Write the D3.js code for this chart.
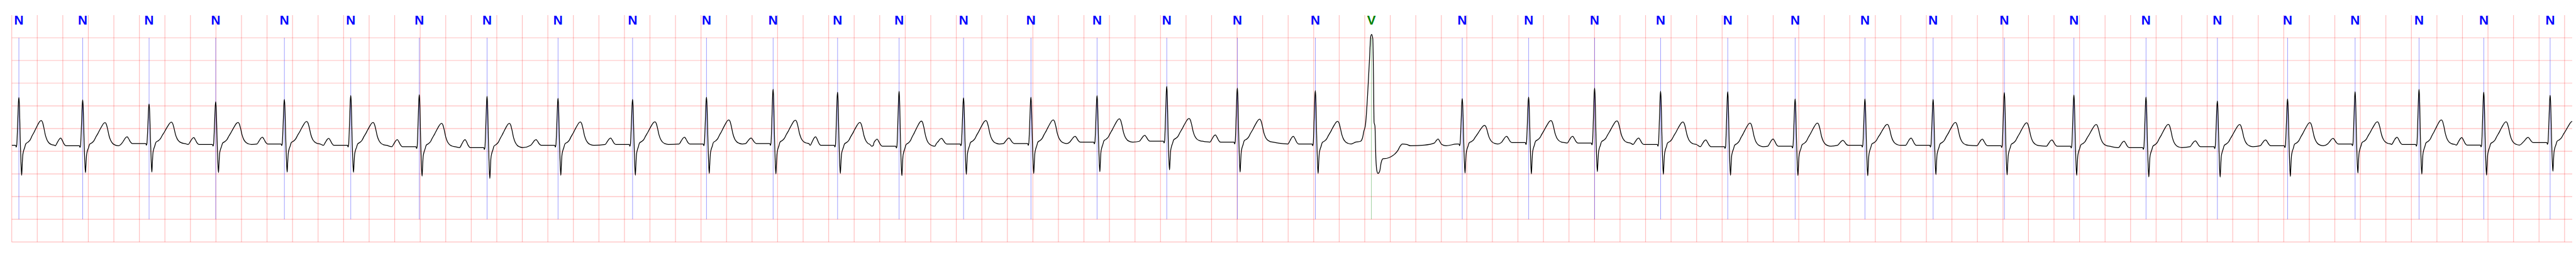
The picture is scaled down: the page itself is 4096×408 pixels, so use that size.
<!DOCTYPE html>
<html><head><meta charset="utf-8">
<script src="https://cdn.jsdelivr.net/npm/d3@7"></script>
<style>html,body{margin:0;padding:0;background:#fff;overflow:hidden}</style>
</head><body>
<script>
// ---- data (time in s, amplitude in mV) ----
const beatTimes = [0.056,0.556,1.076,1.598,2.136,2.656,3.193,3.724,4.280,4.864,
  5.443,5.965,6.470,6.952,7.457,7.985,8.503,9.049,9.602,10.213,
  10.652,11.364,11.884,12.401,12.918,13.444,13.972,14.519,15.053,15.611,
  16.156,16.721,17.280,17.830,18.359,18.860,19.367,19.887];
const beatLabels = ["N","N","N","N","N","N","N","N","N","N",
  "N","N","N","N","N","N","N","N","N","N",
  "V","N","N","N","N","N","N","N","N","N",
  "N","N","N","N","N","N","N","N"];
const rPeak = [0.683,0.63,0.54,0.59,0.64,0.727,0.745,0.712,0.664,0.64,
  0.69,0.866,0.80,0.82,0.677,0.69,0.725,0.93,0.89,0.835,
  2.075,0.66,0.694,0.89,0.82,0.81,0.65,0.65,0.64,0.795,
  0.74,0.694,0.606,0.65,0.81,0.864,0.80,0.73];
const sTrough = [-1.03,-0.97,-0.96,-0.97,-0.96,-0.965,-1.05,-1.10,-1.03,-1.03,
  -0.99,-1.0,-0.99,-1.04,-1.01,-0.99,-0.95,-0.91,-0.96,-0.99,
  -0.99,-0.98,-1.0,-0.95,-1.01,-1.03,-1.035,-1.04,-1.015,-1.02,
  -1.03,-1.066,-1.07,-1.055,-0.98,-1.005,-1.027,-0.94];
const tPeak = [0.177,0.13,0.14,0.134,0.157,0.134,0.114,0.114,0.144,0.15,
  0.19,0.184,0.134,0.164,0.177,0.19,0.215,0.222,0.207,0.16,
  null,0.07,0.177,0.17,0.146,0.12,0.12,0.093,0.134,0.126,
  0.088,0.093,0.088,0.13,0.15,0.19,0.148,0.16];
const pPeak = [null,-0.21,-0.18,-0.2,-0.19,-0.215,-0.245,-0.245,-0.245,-0.21,
  -0.19,-0.21,-0.18,-0.235,-0.215,-0.21,-0.17,-0.15,-0.14,-0.17,
  null,null,-0.17,-0.17,-0.21,-0.25,-0.23,-0.26,-0.21,-0.235,
  -0.25,-0.28,-0.27,-0.25,-0.215,-0.19,-0.2,-0.195];
const baseLevel = [-0.37,-0.38,-0.33,-0.35,-0.34,-0.37,-0.40,-0.42,-0.37,-0.35,
  -0.34,-0.33,-0.37,-0.39,-0.34,-0.33,-0.30,-0.28,-0.30,-0.34,
  -0.34,-0.34,-0.31,-0.32,-0.35,-0.40,-0.39,-0.37,-0.37,-0.38,
  -0.39,-0.42,-0.40,-0.38,-0.34,-0.35,-0.365,-0.31];

// shape of a normal beat read from the first beat: [dt from R (s), component, fraction of (component - baseline)]
const pWaveShape = [[-0.215,0],[-0.198,0.45],[-0.184,0.85],[-0.172,1],[-0.160,0.7],[-0.147,0.25],[-0.132,0]];
const qrsShape = [[-0.026,"B",0],[-0.021,"S",0.06],[-0.017,"B",0],[-0.009,"R",0.5],[-0.003,"R",0.93],
  [0,"R",1],[0.003,"R",0.9],[0.012,"B",0],[0.019,"S",0.85],[0.022,"S",1],[0.025,"S",0.75],
  [0.030,"S",0.35],[0.036,"S",0.2],[0.045,"S",0.08]];
const tWaveShape = [[0.054,0.06],[0.072,0.13],[0.088,0.22],[0.103,0.38],[0.118,0.52],[0.133,0.68],
  [0.150,0.85],[0.163,0.96],[0.175,1],[0.185,0.93],[0.194,0.75],[0.207,0.42],[0.220,0.22],
  [0.235,0.10],[0.255,0.03],[0.28,0]];
// the ventricular beat, read point by point: [dt from annotation (s), mV]
const vBeatShape = [[-0.124,-0.30],[-0.085,-0.28],[-0.069,-0.20],[-0.059,-0.06],[-0.046,0.09],
  [-0.031,0.67],[-0.016,1.46],[-0.005,2.03],[0.002,2.075],[0.011,1.98],[0.017,1.03],[0.021,0.14],
  [0.028,0.05],[0.035,-0.64],[0.043,-0.93],[0.052,-0.99],[0.065,-0.94],[0.077,-0.745],[0.092,-0.665],
  [0.123,-0.655],[0.154,-0.62],[0.184,-0.56],[0.208,-0.48],[0.223,-0.40],[0.243,-0.34],[0.277,-0.35],
  [0.308,-0.38],[0.415,-0.365],[0.493,-0.32],[0.510,-0.26],[0.523,-0.23],[0.535,-0.28],[0.551,-0.35],
  [0.585,-0.38],[0.670,-0.34]];

const timeDomain = [0, 20.06];
const mvDomain = [-2.5, 2.5];
const gridStepT = 0.2, gridStepMv = 0.5;
const markerTop = 2.0, markerBottom = -2.0, labelLevel = 2.29;

// ---- build trace ----
const trace = [[0, baseLevel[0]]];
beatTimes.forEach((tr, i) => {
  const b = baseLevel[i];
  if (beatLabels[i] === "V") {
    vBeatShape.forEach(([dt, v]) => trace.push([tr + dt, v]));
    return;
  }
  const comp = {B: b, R: rPeak[i], S: sTrough[i], T: tPeak[i], P: pPeak[i]};
  if (pPeak[i] !== null) pWaveShape.forEach(([dt, f]) => trace.push([tr + dt, b + f * (comp.P - b)]));
  qrsShape.forEach(([dt, c, f]) => trace.push([tr + dt, b + f * (comp[c] - b)]));
  tWaveShape.forEach(([dt, f]) => trace.push([tr + dt, b + f * (comp.T - b)]));
});
trace.sort((a, b) => a[0] - b[0]);

// ---- draw ----
const W = 7522, H = 750, K = 4096 / 7522;
const svg = d3.select("body").append("svg").attr("width", 4096).attr("height", 408);
svg.append("rect").attr("width", 4096).attr("height", 408).attr("fill", "#fff");
const g = svg.append("g").attr("transform", `scale(${K})`);

const x = d3.scaleLinear().domain(timeDomain).range([34.3, 7511]);
const y = d3.scaleLinear().domain(mvDomain).range([705.5, 44]);

const gridColor = "rgba(255,0,0,0.25)";
g.append("g").selectAll("line").data(d3.range(timeDomain[0], timeDomain[1], gridStepT)).join("line")
  .attr("x1", d => x(d)).attr("x2", d => x(d)).attr("y1", y(mvDomain[1])).attr("y2", y(mvDomain[0]))
  .attr("stroke", gridColor).attr("stroke-width", 2.2);
g.append("g").selectAll("line").data(d3.range(mvDomain[0], mvDomain[1], gridStepMv)).join("line")
  .attr("x1", x(timeDomain[0])).attr("x2", x(timeDomain[1])).attr("y1", d => y(d)).attr("y2", d => y(d))
  .attr("stroke", gridColor).attr("stroke-width", 2.2);

const labelColor = l => l === "V" ? "#008000" : "#0000ff";
const markerColor = l => l === "V" ? "rgba(0,128,0,0.5)" : "rgba(0,0,255,0.5)";
const beats = beatTimes.map((t, i) => ({t, l: beatLabels[i]}));

g.append("g").selectAll("line").data(beats).join("line")
  .attr("x1", d => x(d.t)).attr("x2", d => x(d.t)).attr("y1", y(markerTop)).attr("y2", y(markerBottom))
  .attr("stroke", d => markerColor(d.l)).attr("stroke-width", 1.4);

const clip = g.append("clipPath").attr("id", "plotclip").append("rect")
  .attr("x", x(timeDomain[0])).attr("y", y(mvDomain[1]))
  .attr("width", x(timeDomain[1]) - x(timeDomain[0])).attr("height", y(mvDomain[0]) - y(mvDomain[1]));

g.append("path").datum(trace).attr("clip-path", "url(#plotclip)")
  .attr("fill", "none").attr("stroke", "#000").attr("stroke-width", 2.3).attr("stroke-linejoin", "round")
  .attr("d", d3.line().x(d => x(d[0])).y(d => y(d[1])).curve(d3.curveMonotoneX));

g.append("g").selectAll("text").data(beats).join("text")
  .attr("x", d => x(d.t)).attr("y", y(labelLevel))
  .attr("text-anchor", "middle").attr("font-family", "'Liberation Sans', Arial, sans-serif")
  .attr("font-weight", "bold").attr("font-size", 38)
  .attr("fill", d => labelColor(d.l)).text(d => d.l);
</script>
</body></html>
